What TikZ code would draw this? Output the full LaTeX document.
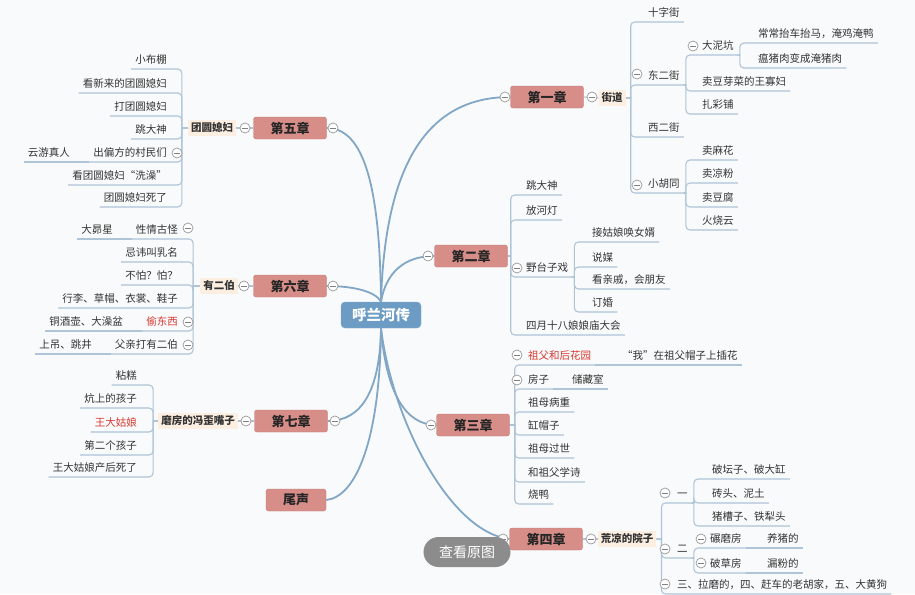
\documentclass[tikz,border=0pt]{standalone}
\usepackage{fontspec}
\setmainfont{Noto Sans CJK SC}
\usetikzlibrary{backgrounds}
\newcommand\lfs{\fontsize{10.5}{12}\selectfont}
\definecolor{bgc}{HTML}{F9FAFB}
\definecolor{rootc}{HTML}{6C9CC4}
\definecolor{chapc}{HTML}{D78D88}
\definecolor{chapd}{HTML}{C47B76}
\definecolor{beigec}{HTML}{FCEFE2}
\definecolor{mainc}{HTML}{82A7C6}
\definecolor{linkc}{HTML}{AFC4D7}
\definecolor{redc}{HTML}{D8372F}
\definecolor{leafc}{HTML}{333333}
\definecolor{btnc}{HTML}{8C8C8C}
\begin{document}
\begin{tikzpicture}[x=1pt,y=-1pt,
  rootbox/.style={fill=rootc, draw=rootc!85!white, rounded corners=4pt, minimum width=80pt, minimum height=26pt, inner sep=0pt, text=white, font=\fontsize{14.5}{16}\selectfont\bfseries},
  chap/.style={fill=chapc, draw=chapd, rounded corners=2.5pt, minimum width=73pt, minimum height=22pt, inner sep=0pt, text=black!85, font=\fontsize{13}{15}\selectfont\bfseries},
  lvtwo/.style={fill=beigec, inner xsep=3pt, inner ysep=2pt, text height=9pt, text depth=2.5pt, text=leafc, font=\lfs\bfseries},
  leafbase/.style={inner xsep=4pt, inner ysep=0pt, text height=9pt, text depth=5pt, font=\lfs, text=leafc},
  rl/.style={leafbase, anchor=south west},
  ll/.style={leafbase, anchor=south east},
  hot/.style={text=redc},
  cb/.style={circle, draw=black!40, fill=white, minimum size=10pt, inner sep=0pt, line width=0.7pt,
    path picture={\draw[black!50, line width=0.7pt] ([xshift=-2.8pt]path picture bounding box.center) -- ([xshift=2.8pt]path picture bounding box.center);}},
  main/.style={draw=mainc, line width=1.8pt},
  link/.style={draw=linkc, line width=1.1pt},
  btn/.style={fill=btnc, rounded corners=15pt, minimum width=87pt, minimum height=30pt, inner sep=0pt, text=white, font=\fontsize{14}{16}\selectfont}
]
\useasboundingbox (0,0) rectangle (915,594);

% root and chapters
\node[rootbox] (root) at (381,315) {呼兰河传};
\node[chap] (ch1) at (547,97) {第一章};
\node[chap] (ch2) at (471,256) {第二章};
\node[chap] (ch3) at (473,425) {第三章};
\node[chap] (ch4) at (546,539) {第四章};
\node[chap] (ch5) at (290,128) {第五章};
\node[chap] (ch6) at (290,286) {第六章};
\node[chap] (ch7) at (291,421) {第七章};
\node[chap, minimum width=60pt] (ch8) at (296,500) {尾声};

% level two labels
\node[lvtwo] (jd) at (612,98) {街道};
\node[lvtwo] (hly) at (627,539) {荒凉的院子};
\node[lvtwo] (tyx) at (212,128) {团圆媳妇};
\node[lvtwo] (yeb) at (219,286) {有二伯};
\node[lvtwo] (fwz) at (198,421) {磨房的冯歪嘴子};

% chapter 1
\node[rl] (sz) at (644,22) {十字街};
\node[rl] (deg) at (644,85) {东二街};
\node[rl] (dnk) at (698,55) {大泥坑};
\node[rl] (ccc) at (754,43) {常常抬车抬马，淹鸡淹鸭};
\node[rl] (wzr) at (754,68) {瘟猪肉变成淹猪肉};
\node[rl] (mdy) at (698,91) {卖豆芽菜的王寡妇};
\node[rl] (zcp) at (698,114) {扎彩铺};
\node[rl] (xej) at (644,137) {西二街};
\node[rl] (xht) at (644,193) {小胡同};
\node[rl] (mmh) at (698,160) {卖麻花};
\node[rl] (mlf) at (698,183) {卖凉粉};
\node[rl] (mdf) at (698,207) {卖豆腐};
\node[rl] (hsy) at (698,230) {火烧云};

% chapter 2
\node[rl] (tdsb) at (522,195) {跳大神};
\node[rl] (fhd) at (522,220) {放河灯};
\node[rl] (ytz) at (522,277) {野台子戏};
\node[rl] (jgn) at (588,242) {接姑娘唤女婿};
\node[rl] (shm) at (588,267) {说媒};
\node[rl] (kqq) at (588,289) {看亲戚，会朋友};
\node[rl] (dhn) at (588,312) {订婚};
\node[rl] (sysb) at (522,335) {四月十八娘娘庙大会};

% chapter 3
\node[rl,hot] (zfh) at (524,365) {祖父和后花园};
\node[rl] (wcz) at (618,365) {“我”在祖父帽子上插花};
\node[rl] (fzi) at (524,389) {房子};
\node[rl] (ccs) at (568,389) {储藏室};
\node[rl] (zmb) at (524,412) {祖母病重};
\node[rl] (gmz) at (524,435) {缸帽子};
\node[rl] (zmg) at (524,458) {祖母过世};
\node[rl] (hzf) at (524,482) {和祖父学诗};
\node[rl] (shy) at (524,504) {烧鸭};

% chapter 4
\node[rl] (yi) at (673,503) {一};
\node[rl] (ptz) at (708,479) {破坛子、破大缸};
\node[rl] (ztn) at (708,503) {砖头、泥土};
\node[rl] (zcz) at (708,526) {猪槽子、铁犁头};
\node[rl] (er) at (673,558) {二};
\node[rl] (nmf) at (706,548) {碾磨房};
\node[rl] (yzd) at (763,548) {养猪的};
\node[rl] (pcf) at (706,573) {破草房};
\node[rl] (lfd) at (763,573) {漏粉的};
\node[rl] (san) at (673,594) {三、拉磨的，四、赶车的老胡家，五、大黄狗};

% chapter 5
\node[ll] (xbp) at (171,69) {小布棚};
\node[ll] (kxl) at (171,93) {看新来的团圆媳妇};
\node[ll] (dty) at (171,116) {打团圆媳妇};
\node[ll] (tdsa) at (171,139) {跳大神};
\node[ll] (cpf) at (171,162) {出偏方的村民们};
\node[ll] (yyz) at (74,162) {云游真人};
\node[ll] (kxz) at (171,185) {看团圆媳妇“洗澡”};
\node[ll] (tys) at (171,207) {团圆媳妇死了};

% chapter 6
\node[ll] (xqg) at (182,239) {性情古怪};
\node[ll] (dmx) at (117,239) {大昴星};
\node[ll] (jhj) at (182,262) {忌讳叫乳名};
\node[ll] (bpp) at (182,285) {不怕？怕？};
\node[ll] (xlc) at (182,308) {行李、草帽、衣裳、鞋子};
\node[ll,hot] (tdx) at (182,331) {偷东西};
\node[ll] (tjh) at (127,331) {铜酒壶、大澡盆};
\node[ll] (fqd) at (182,354) {父亲打有二伯};
\node[ll] (sdt) at (96,354) {上吊、跳井};

% chapter 7
\node[ll] (ngo) at (141,385) {粘糕};
\node[ll] (ksd) at (141,408) {炕上的孩子};
\node[ll,hot] (wdg) at (141,432) {王大姑娘};
\node[ll] (dgz) at (141,455) {第二个孩子};
\node[ll] (wds) at (141,477) {王大姑娘产后死了};

% collapse buttons
\node[cb] (o1) at (505,97) {};
\node[cb] (o2) at (428,256) {};
\node[cb] (o3) at (431,425) {};
\node[cb] (o4) at (503,539) {};
\node[cb] (o5) at (333,128) {};
\node[cb] (o6) at (333,286) {};
\node[cb] (o7) at (335,421) {};
\node[cb] (ojd) at (592,97) {};
\node[cb] (ohly) at (591,539) {};
\node[cb] (otyx) at (245,128) {};
\node[cb] (oyeb) at (244,286) {};
\node[cb] (ofwz) at (246,421) {};
\node[cb] (odeg) at (637,74) {};
\node[cb] (odnk) at (693,46) {};
\node[cb] (oxht) at (637,185) {};
\node[cb] (oytz) at (517,268) {};
\node[cb] (ozfh) at (517,355) {};
\node[cb] (ofzi) at (517,380) {};
\node[cb] (oyi) at (665,493) {};
\node[cb] (oer) at (665,549) {};
\node[cb] (onmf) at (701,539) {};
\node[cb] (opcf) at (701,563) {};
\node[cb] (osan) at (665,584) {};
\node[cb] (ocpf) at (177,153) {};
\node[cb] (oxqg) at (188,228) {};
\node[cb] (otdx) at (188,322) {};
\node[cb] (ofqd) at (188,345) {};

% overlay button
\node[btn] (btn) at (467,552) {查看原图};

\begin{pgfonlayer}{background}
\fill[bgc] (0,0) rectangle (915,594);
% main curves
\draw[main] (root.north) .. controls (385,160) and (430,97) .. (ch1.west);
\draw[main] (root.north) .. controls (386,272) and (405,256) .. (ch2.west);
\draw[main] (root.south) .. controls (386,392) and (405,425) .. (ch3.west);
\draw[main] (root.south) .. controls (392,420) and (450,532) .. (ch4.west);
\draw[main] (root.north) .. controls (380,190) and (365,128) .. (ch5.east);
\draw[main] (root.north) .. controls (376,292) and (355,286) .. (ch6.east);
\draw[main] (root.south) .. controls (380,390) and (362,421) .. (ch7.east);
\draw[main] (root.south) .. controls (380,440) and (356,497) .. (ch8.east);
% chapter to level two
\draw[link] (ch1.east) -- (jd.west);
\draw[link] (ch4.east) -- (hly.west);
\draw[link] (ch5.west) -- (tyx.east);
\draw[link] (ch6.west) -- (yeb.east);
\draw[link] (ch7.west) -- (fwz.east);
% right trees
\foreach \c in {sz,deg,xej,xht} \draw[link] (jd.east) -- ++(5,0) [rounded corners=4pt] |- (\c.south east);
\foreach \c in {dnk,mdy,zcp} \draw[link] (deg.south east) -- ++(2,0) [rounded corners=4pt] |- (\c.south east);
\foreach \c in {ccc,wzr} \draw[link] (dnk.south east) -- ++(2,0) [rounded corners=4pt] |- (\c.south east);
\foreach \c in {mmh,mlf,mdf,hsy} \draw[link] (xht.south east) -- ++(2,0) [rounded corners=4pt] |- (\c.south east);
\foreach \c in {tdsb,fhd,ytz,sysb} \draw[link] (ch2.east) -- ++(3,0) [rounded corners=4pt] |- (\c.south east);
\foreach \c in {jgn,shm,kqq,dhn} \draw[link] (ytz.south east) -- ++(2,0) [rounded corners=4pt] |- (\c.south east);
\foreach \c in {zfh,fzi,zmb,gmz,zmg,hzf,shy} \draw[link] (ch3.east) -- ++(5,0) [rounded corners=4pt] |- (\c.south east);
\draw[link] (zfh.south east) -- (wcz.south east);
\draw[link] (fzi.south east) -- (ccs.south east);
\foreach \c in {yi,er,san} \draw[link] (hly.east) -- ++(5,0) [rounded corners=4pt] |- (\c.south east);
\foreach \c in {ptz,ztn,zcz} \draw[link] (yi.south east) -- ++(2,0) [rounded corners=4pt] |- (\c.south east);
\foreach \c in {nmf,pcf} \draw[link] (er.south east) -- ++(2,0) [rounded corners=4pt] |- (\c.south east);
\draw[link] (nmf.south east) -- (yzd.south east);
\draw[link] (pcf.south east) -- (lfd.south east);
% left trees
\foreach \c in {xbp,kxl,dty,tdsa,cpf,kxz,tys} \draw[link] (tyx.west) -- ++(-6,0) [rounded corners=4pt] |- (\c.south west);
\draw[link] (cpf.south west) -- (yyz.south west);
\foreach \c in {xqg,jhj,bpp,xlc,tdx,fqd} \draw[link] (yeb.west) -- ++(-7,0) [rounded corners=4pt] |- (\c.south west);
\draw[link] (xqg.south west) -- (dmx.south west);
\draw[link] (tdx.south west) -- (tjh.south west);
\draw[link] (fqd.south west) -- (sdt.south west);
\foreach \c in {ngo,ksd,wdg,dgz,wds} \draw[link] (fwz.west) -- ++(-5,0) [rounded corners=4pt] |- (\c.south west);
\end{pgfonlayer}
\end{tikzpicture}
\end{document}
